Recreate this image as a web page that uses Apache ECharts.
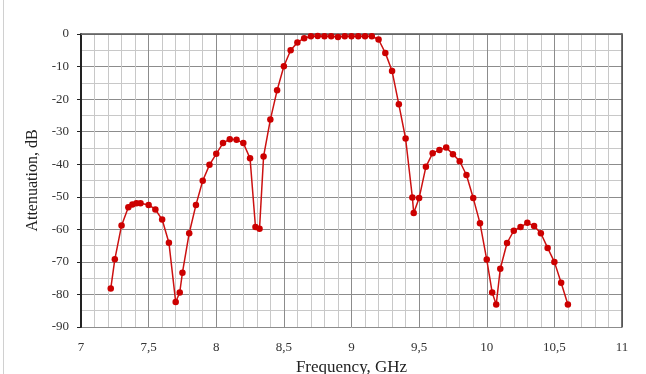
<!DOCTYPE html>
<html>
<head>
<meta charset="utf-8">
<script src="https://cdn.jsdelivr.net/npm/echarts@6/dist/echarts.min.js"></script>
<style>
  html, body { margin: 0; padding: 0; background: #fff; }
  #chart { width: 646px; height: 374px; }
</style>
</head>
<body>
<div id="chart"></div>
<script>
    // frequency, GHz
    var freq = [7.22, 7.25, 7.30, 7.35, 7.38, 7.41, 7.44, 7.50, 7.55, 7.60,
                7.65, 7.70, 7.73, 7.75, 7.80, 7.85, 7.90, 7.95, 8.00, 8.05,
                8.10, 8.15, 8.20, 8.25, 8.29, 8.32, 8.35, 8.40, 8.45, 8.50,
                8.55, 8.60, 8.65, 8.70, 8.75, 8.80, 8.85, 8.90, 8.95, 9.00,
                9.05, 9.10, 9.15, 9.20, 9.25, 9.30, 9.35, 9.40, 9.45, 9.46,
                9.50, 9.55, 9.60, 9.65, 9.70, 9.75, 9.80, 9.85, 9.90, 9.95,
                10.00, 10.04, 10.07, 10.10, 10.15, 10.20, 10.25, 10.30, 10.35, 10.40,
                10.45, 10.50, 10.55, 10.60];
    // attenuation, dB
    var atten = [-78.2, -69.2, -58.8, -53.2, -52.4, -52.0, -52.0, -52.5, -53.9, -57.0,
                 -64.1, -82.3, -79.4, -73.3, -61.2, -52.5, -45.1, -40.2, -36.8, -33.5,
                 -32.3, -32.5, -33.5, -38.2, -59.3, -59.8, -37.6, -26.3, -17.3, -9.9,
                 -5.0, -2.6, -1.3, -0.7, -0.6, -0.7, -0.7, -0.9, -0.7, -0.7,
                 -0.7, -0.7, -0.7, -1.7, -5.8, -11.4, -21.6, -32.1, -50.2, -55.0,
                 -50.4, -40.8, -36.6, -35.6, -34.9, -36.9, -39.1, -43.3, -50.4, -58.1,
                 -69.3, -79.4, -83.1, -72.1, -64.2, -60.4, -59.3, -58.0, -59.0, -61.2,
                 -65.7, -70.0, -76.4, -83.1];

    var points = [];
    for (var i = 0; i < freq.length; i++) {
        points.push([freq[i], atten[i]]);
    }

    var serif = '"Liberation Serif", "DejaVu Serif", serif';
    var chart = echarts.init(document.getElementById('chart'));
    var option = {
        animation: false,
        grid: {
            left: 81,
            right: 24,
            top: 34,
            bottom: 47,
            outerBoundsMode: 'none'
        },
        graphic: [{
            type: 'line',
            shape: {x1: 3.5, y1: 0, x2: 3.5, y2: 374},
            style: {stroke: '#d0d0d0', lineWidth: 1}
        }],
        xAxis: [{
            type: 'value',
            min: 7,
            max: 11,
            interval: 0.5,
            name: 'Frequency, GHz',
            nameLocation: 'middle',
            nameGap: 32,
            nameTextStyle: {fontFamily: serif, fontSize: 17, color: '#222'},
            axisLine: {show: true, lineStyle: {color: '#999', width: 1}},
            axisTick: {show: false},
            axisLabel: {
                fontFamily: serif, fontSize: 13, color: '#333', margin: 14,
                formatter: function (v) { return String(v).replace('.', ','); }
            },
            splitLine: {show: true, lineStyle: {color: '#8c8c8c', width: 1}},
            minorTick: {show: false, splitNumber: 5},
            minorSplitLine: {show: true, lineStyle: {color: '#c8c8c8', width: 1}}
        }, {
            type: 'value',
            position: 'top',
            min: 7,
            max: 11,
            axisLine: {show: true, onZero: false, lineStyle: {color: '#555', width: 1.5}},
            axisTick: {show: false},
            axisLabel: {show: false},
            splitLine: {show: false}
        }],
        yAxis: [{
            type: 'value',
            min: -90,
            max: 0,
            interval: 10,
            name: 'Attenuation, dB',
            nameLocation: 'middle',
            nameGap: 31,
            nameTextStyle: {fontFamily: serif, fontSize: 16, color: '#222'},
            axisLine: {show: true, onZero: false, lineStyle: {color: '#222', width: 2}},
            axisTick: {show: true, length: 4, lineStyle: {color: '#222'}},
            axisLabel: {fontFamily: serif, fontSize: 13, color: '#333', margin: 12},
            splitLine: {show: true, lineStyle: {color: '#8c8c8c', width: 1}},
            minorTick: {show: false, splitNumber: 2},
            minorSplitLine: {show: true, lineStyle: {color: '#c8c8c8', width: 1}}
        }, {
            type: 'value',
            position: 'right',
            min: -90,
            max: 0,
            axisLine: {show: true, onZero: false, lineStyle: {color: '#444', width: 1.5}},
            axisTick: {show: false},
            axisLabel: {show: false},
            splitLine: {show: false}
        }],
        series: [{
            type: 'line',
            data: points,
            symbol: 'circle',
            symbolSize: 6.5,
            lineStyle: {color: '#cc1111', width: 1.5},
            itemStyle: {color: '#cc0000'}
        }]
    };
    chart.setOption(option);
</script>
</body>
</html>
